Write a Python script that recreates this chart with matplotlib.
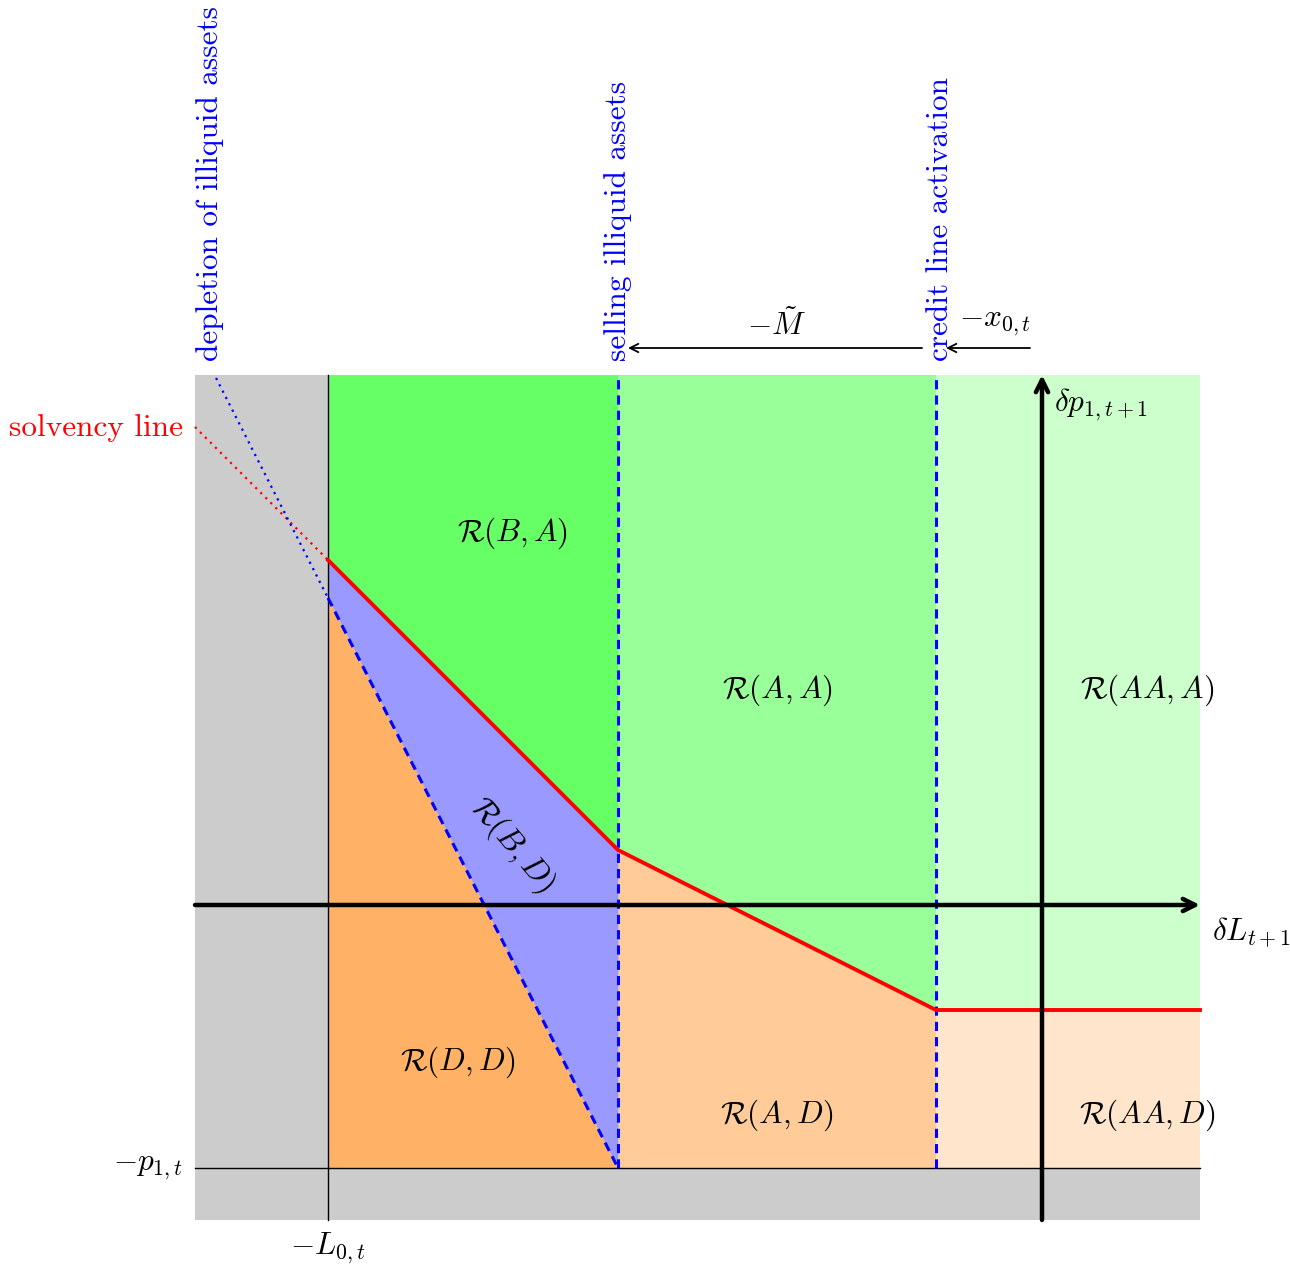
import matplotlib
matplotlib.use('Agg')
import matplotlib.pyplot as plt
import numpy as np

plt.rcParams['mathtext.fontset'] = 'cm'

# diagram data (origin at the axes crossing, 1 unit = 100 px)
x_left, x_right = -8.47, 1.58
y_bottom, y_top = -3.15, 5.30
L0 = -7.14          # -L_{0,t}
x_sell = -4.24      # selling illiquid assets
x_credit = -1.06    # credit line activation
p1 = -2.63          # -p_{1,t}

# solvency (red) line knots
solv_x = [L0, x_sell, x_credit, x_right]
solv_y = [3.45, 0.55, -1.05, -1.05]
# depletion of illiquid assets (blue dashed) line
depl_x = [L0, x_sell]
depl_y = [3.07, p1]

region_labels = ['$\\mathcal{R}(B,A)$', '$\\mathcal{R}(A,A)$', '$\\mathcal{R}(AA,A)$',
                 '$\\mathcal{R}(B,D)$', '$\\mathcal{R}(D,D)$', '$\\mathcal{R}(A,D)$',
                 '$\\mathcal{R}(AA,D)$']
region_pos = [(-5.30, 3.72), (-2.65, 2.15), (1.05, 2.15),
              (-5.30, 0.60), (-5.84, -1.57), (-2.65, -2.10), (1.05, -2.10)]

fig = plt.figure(figsize=(12.9, 12.64), dpi=100)
ax = fig.add_axes([0, 0, 1, 1])
ax.set_xlim(-10.42, 2.48)
ax.set_ylim(-3.59, 9.05)
ax.axis('off')

gray = '#cccccc'
ax.fill_between([x_left, x_right], y_bottom, y_top, color=gray, lw=0)

def red(x):
    return np.interp(x, solv_x, solv_y)

def blue(x):
    return np.interp(x, depl_x, depl_y)

xs1 = np.linspace(L0, x_sell, 200)
xs2 = np.linspace(x_sell, x_credit, 200)
xs3 = np.linspace(x_credit, x_right, 200)
ax.fill_between(xs1, red(xs1), y_top, color='#66ff66', lw=0)
ax.fill_between(xs2, red(xs2), y_top, color='#99ff99', lw=0)
ax.fill_between(xs3, red(xs3), y_top, color='#ccffcc', lw=0)
ax.fill_between(xs1, p1, blue(xs1), color='#ffb266', lw=0)
ax.fill_between(xs1, blue(xs1), red(xs1), color='#9999ff', lw=0)
ax.fill_between(xs2, p1, red(xs2), color='#ffcc99', lw=0)
ax.fill_between(xs3, p1, red(xs3), color='#ffe5cc', lw=0)

# thin reference lines
ax.plot([L0, L0], [y_bottom, y_top], color='black', lw=1)
ax.plot([x_left, x_right], [p1, p1], color='black', lw=1)

# dotted extensions into the gray area
s_red = (solv_y[1] - solv_y[0]) / (solv_x[1] - solv_x[0])
ax.plot([x_left, L0], [solv_y[0] + s_red * (x_left - L0), solv_y[0]],
        color='red', ls=(0, (1, 2.2)), lw=1.6)
s_blue = (depl_y[1] - depl_y[0]) / (depl_x[1] - depl_x[0])
x_top = L0 + (y_top - 0.03 - depl_y[0]) / s_blue
ax.plot([x_top, L0], [y_top - 0.03, depl_y[0]],
        color='blue', ls=(0, (1, 2.2)), lw=1.6)

# dashed boundaries
ax.plot(depl_x, depl_y, color='blue', ls=(0, (3, 2)), lw=2.2)
for xv in (x_sell, x_credit):
    ax.plot([xv, xv], [p1, y_top], color='blue', ls=(0, (3, 2)), lw=2.2)

# solvency line
ax.plot(solv_x, solv_y, color='red', lw=2.8, solid_joinstyle='miter')

# main axes with arrows
ax.annotate('', xy=(x_right, 0), xytext=(x_left, 0),
            arrowprops=dict(arrowstyle='->', lw=3.2, color='black',
                            shrinkA=0, shrinkB=0, mutation_scale=22))
ax.annotate('', xy=(0, y_top), xytext=(0, y_bottom),
            arrowprops=dict(arrowstyle='->', lw=3.2, color='black',
                            shrinkA=0, shrinkB=0, mutation_scale=22))

fs = 22.5
for lab, (px, py) in zip(region_labels, region_pos):
    rot = -50 if 'B,D' in lab else 0
    ax.text(px, py, lab, fontsize=fs, ha='center', va='center', rotation=rot)

ax.text(0.12, 5.0, '$\\delta p_{1,t+1}$', fontsize=fs, ha='left', va='center')
ax.text(1.70, -0.27, '$\\delta L_{t+1}$', fontsize=fs, ha='left', va='center')
ax.text(-8.59, p1, '$-p_{1,t}$', fontsize=fs, ha='right', va='center')
ax.text(L0, -3.43, '$-L_{0,t}$', fontsize=fs, ha='center', va='center')
ax.text(-8.59, 4.77, 'solvency line', fontsize=fs, ha='right', va='center',
        color='red', family='cmr10')

# top annotations
y_arr = 5.57
ax.annotate('', xy=(x_credit + 0.10, y_arr), xytext=(-0.12, y_arr),
            arrowprops=dict(arrowstyle='->', lw=1.3, color='black',
                            shrinkA=0, shrinkB=0, mutation_scale=15))
ax.annotate('', xy=(x_sell + 0.10, y_arr), xytext=(x_credit - 0.14, y_arr),
            arrowprops=dict(arrowstyle='->', lw=1.3, color='black',
                            shrinkA=0, shrinkB=0, mutation_scale=15))
ax.text((x_sell + x_credit) / 2, 5.80, '$-\\tilde{M}$', fontsize=fs,
        ha='center', va='center')
ax.text(-0.47, 5.82, '$-x_{0,t}$', fontsize=fs, ha='center', va='center')

for xv, lab in [(-8.32, 'depletion of illiquid assets'),
                (x_sell + 0.0, 'selling illiquid assets'),
                (x_credit + 0.04, 'credit line activation')]:
    ax.text(xv, 5.44, lab, fontsize=fs, rotation=90, ha='center', va='bottom',
            color='blue', family='cmr10')

fig.savefig('out.png', dpi=100, facecolor='white')
